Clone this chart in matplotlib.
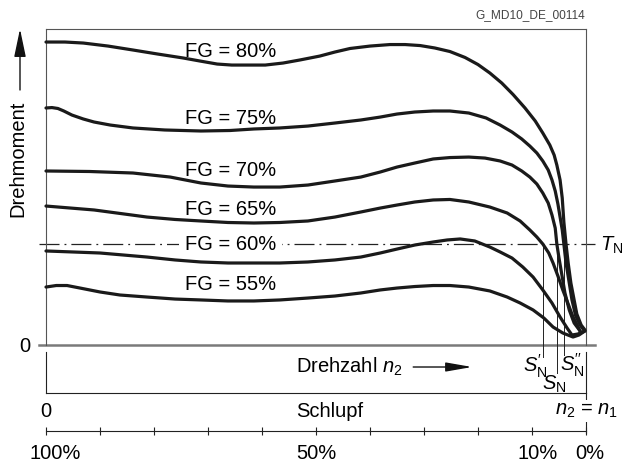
import numpy as np
import matplotlib
matplotlib.use("Agg")
import matplotlib.pyplot as plt
from matplotlib.transforms import ScaledTranslation

plt.rcParams['font.family'] = ['Liberation Sans', 'DejaVu Sans']
plt.rcParams['mathtext.fontset'] = 'custom'
plt.rcParams['mathtext.rm'] = 'Liberation Sans'
plt.rcParams['mathtext.it'] = 'Liberation Sans:italic'

# Drehzahl n2 in % von n1, Drehmoment in % von T_N
fg80_n = [0, 3.5, 6.9, 11.5, 16.1, 20.7, 25.4, 28.5, 31.7, 34.4, 37.2, 40.6, 43.9, 47.0,
          50.7, 53.5, 56.3, 60.0, 63.7, 66.5, 69.3, 72.0, 74.8, 77.6, 80.0, 82.2, 84.4, 86.5,
          88.7, 90.6, 92.0, 93.3, 94.1, 94.6, 95.2, 95.6, 95.9, 96.3, 96.7, 97.2, 97.8,
          98.3, 99.1, 99.8]
fg80_t = [300.0, 300.0, 299.0, 296.0, 292.1, 288.1, 284.2, 281.2, 278.2, 277.2, 277.2, 277.2,
          279.2, 282.2, 286.1, 290.1, 293.6, 296.0, 297.5, 297.5, 296.5, 294.1, 290.6, 284.7,
          277.7, 269.3, 259.4, 248.0, 234.7, 221.8, 209.9, 198.0, 188.1, 178.2, 163.4, 145.5,
          121.8, 100.0, 81.2, 61.4, 44.6, 30.7, 19.8, 14.9]

fg75_n = [0, 1.1, 2.2, 3.3, 4.8, 6.9, 8.9, 11.9, 16.1, 22.0, 28.7, 34.1, 38.5, 43.3, 48.5,
          53.5, 58.3, 61.9, 65.0, 68.3, 71.7, 74.8, 78.3, 81.5, 84.1, 86.3, 88.1, 89.6,
          90.9, 92.0, 93.0, 93.7, 94.3, 94.8, 95.2, 95.6, 95.9, 96.3, 96.9, 97.4, 98.1,
          98.9, 99.6]
fg75_t = [234.7, 235.1, 234.2, 231.7, 227.7, 223.8, 220.8, 217.8, 214.9, 212.9, 211.9, 212.4,
          213.9, 214.9, 216.8, 219.8, 222.8, 225.7, 228.7, 230.7, 231.7, 231.7, 229.7, 224.8,
          217.8, 210.9, 204.0, 197.0, 190.1, 182.2, 173.3, 163.4, 152.5, 139.6, 126.7, 113.9,
          100.0, 81.2, 61.4, 44.6, 28.7, 19.8, 14.9]

fg70_n = [0, 8.1, 16.1, 23.0, 28.7, 33.7, 38.5, 43.3, 48.5, 53.5, 58.3, 61.9, 65.0, 68.3,
          71.7, 74.8, 78.3, 81.3, 84.1, 86.3, 88.1, 89.6, 90.9, 92.0, 93.0, 93.7, 94.3,
          94.6, 95.0, 95.6, 96.1, 96.9, 97.8, 98.9]
fg70_t = [172.3, 171.8, 170.3, 166.3, 160.4, 157.4, 156.4, 156.4, 158.4, 162.4, 166.3, 171.3,
          176.2, 180.2, 184.2, 185.6, 186.1, 185.1, 182.2, 178.2, 172.3, 166.3, 159.4, 150.5,
          140.6, 128.7, 115.8, 100.0, 86.1, 67.3, 51.5, 34.7, 21.8, 13.9]

fg65_n = [0, 8.9, 18.7, 23.9, 28.7, 33.7, 38.5, 43.3, 48.5, 53.5, 58.3, 61.9, 65.0, 68.3,
          71.7, 74.8, 78.3, 82.2, 85.4, 87.8, 89.6, 90.9, 92.0, 93.1, 93.9, 94.8, 95.7,
          96.7, 97.6, 98.9]
fg65_t = [137.6, 133.7, 126.7, 124.3, 122.8, 121.3, 120.8, 121.3, 122.8, 126.7, 131.7, 135.6,
          138.6, 141.6, 143.6, 144.1, 141.6, 136.6, 130.7, 122.8, 113.9, 106.9, 100.0, 91.1,
          81.2, 68.3, 54.5, 40.6, 27.7, 13.9]

fg60_n = [0, 10.0, 18.7, 23.9, 28.7, 33.7, 38.5, 43.3, 48.5, 53.5, 58.3, 61.9, 65.0, 68.3,
          71.7, 74.3, 76.7, 79.4, 82.2, 84.1, 86.3, 88.3, 90.2, 92.0, 93.7, 95.2, 96.5,
          97.4, 98.5, 99.8]
fg60_t = [93.1, 91.1, 87.1, 84.2, 82.2, 81.2, 81.2, 81.2, 82.2, 84.2, 87.1, 91.1,
          95.0, 99.0, 102.0, 104.0, 105.0, 103.0, 97.0, 92.1, 86.1, 77.2, 67.3, 54.5,
          41.6, 27.7, 16.8, 9.9, 10.9, 13.9]

fg55_n = [0, 1.9, 3.9, 6.3, 10.0, 13.7, 18.7, 23.9, 28.7, 33.7, 38.5, 43.3, 48.5, 53.5,
          58.3, 61.9, 65.0, 68.3, 71.7, 74.8, 78.3, 82.2, 85.4, 87.8, 90.2, 92.2, 93.9,
          95.7, 97.6, 98.7, 99.8]
fg55_t = [57.4, 58.9, 58.9, 56.4, 52.5, 49.5, 47.5, 45.5, 44.6, 43.6, 43.6, 44.6, 46.5, 48.5,
          51.5, 54.5, 56.4, 57.9, 58.9, 58.9, 57.4, 53.5, 47.5, 41.6, 34.7, 26.7, 17.8,
          11.9, 7.9, 9.9, 13.9]

namen = ["FG = 80%", "FG = 75%", "FG = 70%", "FG = 65%", "FG = 60%", "FG = 55%"]
label_y = [285.1, 218.8, 167.3, 128.7, 94.1, 54.5]
kurven_n = [fg80_n, fg75_n, fg70_n, fg65_n, fg60_n, fg55_n]
kurven_t = [fg80_t, fg75_t, fg70_t, fg65_t, fg60_t, fg55_t]

T_N = 100
s_werte = [92.0, 94.6, 95.9]
s_namen = [r"$S_{\mathrm{N}}^{\prime}$", r"$S_{\mathrm{N}}$", r"$S_{\mathrm{N}}^{\prime\prime}$"]
s_unten = [-11.9, -27.7, -9.9]
s_text_x = [90.6, 94.2, 97.5]
s_text_y = [-21.5, -39.0, -20.0]

schlupf_ticks = [100, 50, 10, 0]
schlupf_labels = ["100%", "50%", "10%", "0%"]

fig = plt.figure(figsize=(6.22, 4.65), dpi=100)
W, H = 622, 465
fs = 14.5

# Drehmoment-Feld
ax = fig.add_axes([46 / W, 120 / H, 540 / W, 316 / H])
ax.set_xlim(0, 100)
ax.set_ylim(0, 312.9)
ax.set_xticks([])
ax.set_yticks([])
for s in ["top", "left", "right"]:
    ax.spines[s].set_color("#555555")
    ax.spines[s].set_linewidth(0.8)
ax.spines["bottom"].set_visible(False)
ax.axhline(0, xmin=-0.013, xmax=1.017, color="#7a7a7a", lw=1.8, clip_on=False, zorder=1)
ax.axhline(T_N, xmin=-0.013, xmax=1.017, color="#222222", lw=0.9,
           ls=(0, (16, 4, 1.5, 4)), clip_on=False, zorder=1)
ax.text(102.6, 99, r"$T_{\mathrm{N}}$", ha="left", va="center", fontsize=fs)
ax.text(-3.9, -1.5, "0", ha="center", va="center", fontsize=fs)

for n, t in zip(kurven_n, kurven_t):
    ax.plot(n, t, color="#1a1a1a", lw=2.3, solid_joinstyle="round",
            solid_capstyle="round", clip_on=False, zorder=3)

for name, y in zip(namen, label_y):
    kw = {}
    if name == "FG = 60%":
        kw["bbox"] = dict(facecolor="white", edgecolor="none", pad=4)
    ax.text(25.7, y, name, ha="left", va="baseline", fontsize=fs, zorder=2, **kw)

for sx, su, sn, tx, ty in zip(s_werte, s_unten, s_namen, s_text_x, s_text_y):
    ax.plot([sx, sx], [T_N, su], color="#222222", lw=0.7, clip_on=False, zorder=2)
    ax.text(tx, ty, sn, ha="center", va="center", fontsize=fs)

# Drehzahl-Achse
ax_n = fig.add_axes([46 / W, 72 / H, 540 / W, 41 / H])
ax_n.set_xlim(0, 100)
ax_n.set_ylim(0, 1)
ax_n.set_xticks([])
ax_n.set_yticks([])
ax_n.patch.set_alpha(0)
ax_n.spines["top"].set_visible(False)
for s in ["left", "right", "bottom"]:
    ax_n.spines[s].set_linewidth(0.8)
    ax_n.spines[s].set_color("#222222")
ax_n.plot([100, 100], [0, -0.976], color="#222222", lw=0.8, clip_on=False)
ax_n.text(46.3, 0.488, r"Drehzahl $n_2$", ha="left", va="baseline", fontsize=fs)
ax_n.annotate("", xy=(78.9, 0.634), xytext=(68.0, 0.634),
              arrowprops=dict(arrowstyle="-|>,head_length=0.8,head_width=0.14",
                              color="#111111", lw=1.0, mutation_scale=20,
                              shrinkA=0, shrinkB=0))
ax_n.text(0, -0.585, "0", ha="center", va="baseline", fontsize=fs)
ax_n.text(46.3, -0.585, "Schlupf", ha="left", va="baseline", fontsize=fs)
ax_n.text(100, -0.537, r"$n_2$ = $n_1$", ha="center", va="baseline", fontsize=fs,
          bbox=dict(facecolor="white", edgecolor="none", pad=1))

# Schlupf-Achse
ax_s = fig.add_axes([46 / W, 34 / H, 540 / W, 10 / H])
ax_s.set_xlim(100, 0)
ax_s.set_yticks([])
ax_s.patch.set_alpha(0)
for s in ["top", "left", "right"]:
    ax_s.spines[s].set_visible(False)
ax_s.spines["bottom"].set_linewidth(0.8)
ax_s.spines["bottom"].set_color("#222222")
ax_s.set_xticks(schlupf_ticks)
ax_s.set_xticklabels(schlupf_labels, fontsize=fs)
ax_s.set_xticks(np.arange(0, 101, 10), minor=True)
ax_s.tick_params(axis="x", which="both", direction="inout", length=6, width=0.8,
                 color="#222222", pad=6)
for lab, dx in zip(ax_s.get_xticklabels(), [9, 0, 6, 4]):
    lab.set_transform(lab.get_transform() + ScaledTranslation(dx / 100, 0, fig.dpi_scale_trans))

# Achsbeschriftung Drehmoment mit Pfeil
fig.text(18 / W, 1 - 158.5 / H, "Drehmoment", rotation=90, ha="center", va="center", fontsize=fs)
ax.annotate("", xy=(20, H - 29), xytext=(20, H - 90), xycoords="figure pixels",
            textcoords="figure pixels",
            arrowprops=dict(arrowstyle="-|>,head_length=0.86,head_width=0.18",
                            color="#111111", lw=1.0, mutation_scale=20,
                            shrinkA=0, shrinkB=0))

fig.text(585 / W, 1 - 15 / H, "G_MD10_DE_00114", ha="right", va="center",
         fontsize=8.6, color="#444444")

plt.savefig("out.png", dpi=100)
